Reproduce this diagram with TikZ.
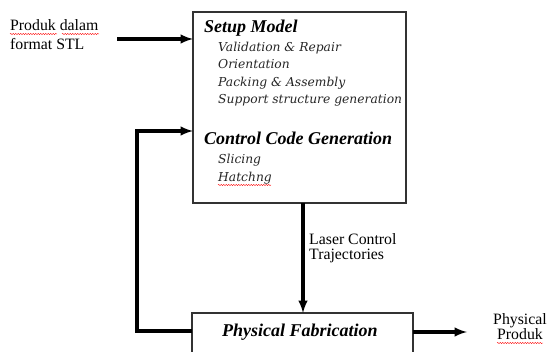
\documentclass[tikz,border=0pt]{standalone}
\usepackage{fontspec}
\setmainfont{Liberation Serif}
\newfontfamily\itemfont{DejaVu Serif}
\usepackage{tikz}
\usetikzlibrary{arrows,positioning,decorations.pathmorphing}

\begin{document}
\begin{tikzpicture}[x=1pt,y=-1pt,
    box/.style={draw=black!80,line width=1.4pt},
    flow/.style={line width=3.2pt,-latex},
    head/.style={anchor=base west,inner sep=0pt,font=\fontsize{18}{18}\selectfont\bfseries\itshape},
    item/.style={anchor=base west,inner sep=0pt,font=\itemfont\fontsize{12.3}{12.3}\selectfont\itshape,text=black!85},
    plain/.style={inner sep=0pt,font=\fontsize{15.8}{15.8}\selectfont},
    spell/.style={red,line width=0.4pt,decorate,decoration={snake,amplitude=0.6pt,segment length=2.5pt}}]
        \useasboundingbox (0,0) rectangle (549,352);
        \clip (0,0) rectangle (549,352);
        % Define the corners of the boxes
        \coordinate (S1) at (193,12);
        \coordinate (S2) at (406,203);
        \coordinate (P1) at (192,313);
        \coordinate (P2) at (413,365);
        \draw[box] (S1) rectangle (S2);
        \draw[box] (P1) rectangle (P2);
        % Texts of the setup box
        \node[head] (setup) at (204,33) {Setup Model};
        \node[item] (valid) at (218,52) {Validation \& Repair};
        \node[item] (orient) at (218,69) {Orientation};
        \node[item] (pack) at (218,87) {Packing \& Assembly};
        \node[item] (support) at (218,104) {Support structure generation};
        \node[head] (control) at (204,145) {Control Code Generation};
        \node[item] (slice) at (218,164) {Slicing};
        \node[item] (hatch) at (218,182) {Hatchng};
        \node[head] (fab) at (222,337) {Physical Fabrication};
        % Outside labels
        \node[plain,anchor=base west] (in1) at (10,31) {Produk dalam};
        \node[plain,anchor=base west] (in2) at (10,50) {format STL};
        \node[plain,anchor=base west] (laser1) at (309,245) {Laser Control};
        \node[plain,anchor=base west] (laser2) at (309,260) {Trajectories};
        \node[plain,anchor=base] (out1) at (520,325) {Physical};
        \node[plain,anchor=base] (out2) at (520,340) {Produk};
        % Spelling marks
        \draw[spell] (10,34) -- (57,34);
        \draw[spell] (62,34) -- (99,34);
        \draw[spell] (218,185) -- (271,185);
        \draw[spell] (497,343) -- (543,343);
        % Define the ends of the connectors
        \coordinate (inA) at (117,39);
        \coordinate (inB) at (193,39);
        \coordinate (downA) at (303,203);
        \coordinate (downB) at (303,313);
        \coordinate (outA) at (413,332);
        \coordinate (outB) at (467,332);
        \coordinate (backA) at (192,331);
        \coordinate (backB) at (137,331);
        \coordinate (backC) at (137,131);
        \coordinate (backD) at (193,131);
        % Draw the connectors
        \draw[flow] (inA) -- (inB);
        \draw[flow] (downA) -- (downB);
        \draw[flow] (outA) -- (outB);
        \draw[flow] (backA) -- (backB) -- (backC) -- (backD);
    \end{tikzpicture}
\end{document}
